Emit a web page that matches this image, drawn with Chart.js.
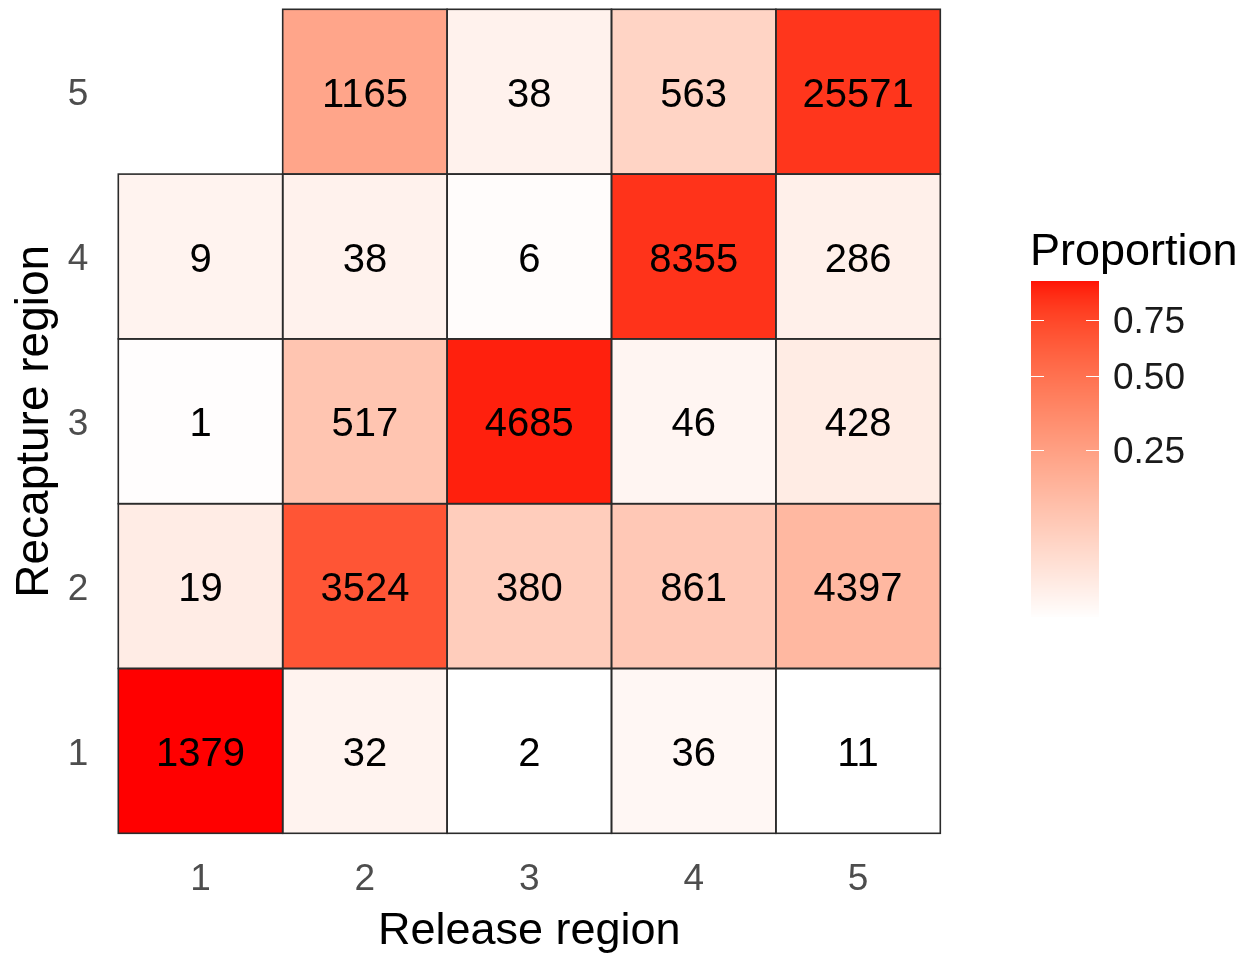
<!DOCTYPE html>
<html>
<head>
<meta charset="utf-8">
<script src="https://cdn.jsdelivr.net/npm/chart.js@4"></script>
<style>
  html, body { margin: 0; padding: 0; background: #ffffff; }
  #wrap { width: 1244px; height: 959px; }
</style>
</head>
<body>
<div id="wrap"><canvas id="heat" width="1244" height="959"></canvas></div>
<script>
// Tag-recapture counts: one array per recapture region, indexed by release region
const releaseRegions = ['1', '2', '3', '4', '5'];
const recaptureRegions = [1, 2, 3, 4, 5];
const recapture1 = [1379, 32, 2, 36, 11];
const recapture2 = [19, 3524, 380, 861, 4397];
const recapture3 = [1, 517, 4685, 46, 428];
const recapture4 = [9, 38, 6, 8355, 286];
const recapture5 = [null, 1165, 38, 563, 25571];
const legendTicks = [0.25, 0.50, 0.75];
const legendTitle = 'Proportion';
const xTitle = 'Release region';
const yTitle = 'Recapture region';

const countRows = [recapture1, recapture2, recapture3, recapture4, recapture5];

// proportion of each release region's recaptures that ended up in each region
const releaseTotals = releaseRegions.map((_, c) =>
  countRows.reduce((s, row) => s + (row[c] == null ? 0 : row[c]), 0));
const propRows = countRows.map(row => row.map((v, c) => v == null ? null : v / releaseTotals[c]));
const allProps = propRows.flat().filter(v => v != null);
const sLo = Math.sqrt(Math.min(...allProps));
const sHi = Math.sqrt(Math.max(...allProps));

// white -> red gradient interpolated in CIE Lab, on a square-root scale
function toLin(c) { c /= 255; return c <= 0.04045 ? c / 12.92 : Math.pow((c + 0.055) / 1.055, 2.4); }
function toGam(c) { const v = c <= 0.0031308 ? 12.92 * c : 1.055 * Math.pow(c, 1 / 2.4) - 0.055; return Math.max(0, Math.min(255, Math.round(v * 255))); }
const Xn = 0.95047, Yn = 1.0, Zn = 1.08883;
function rgbToLab(rgb) {
  const [r, g, b] = rgb.map(toLin);
  const X = (0.4124564 * r + 0.3575761 * g + 0.1804375 * b) / Xn;
  const Y = (0.2126729 * r + 0.7151522 * g + 0.0721750 * b) / Yn;
  const Z = (0.0193339 * r + 0.1191920 * g + 0.9503041 * b) / Zn;
  const f = t => t > 0.008856 ? Math.cbrt(t) : 7.787 * t + 16 / 116;
  const fx = f(X), fy = f(Y), fz = f(Z);
  return [116 * fy - 16, 500 * (fx - fy), 200 * (fy - fz)];
}
function labToRgb([L, a, b]) {
  const fy = (L + 16) / 116, fx = fy + a / 500, fz = fy - b / 200;
  const inv = t => t * t * t > 0.008856 ? t * t * t : (t - 16 / 116) / 7.787;
  const X = inv(fx) * Xn, Y = inv(fy) * Yn, Z = inv(fz) * Zn;
  const r = 3.2404542 * X - 1.5371385 * Y - 0.4985314 * Z;
  const g = -0.9692660 * X + 1.8760108 * Y + 0.0415560 * Z;
  const bb = 0.0556434 * X - 0.2040259 * Y + 1.0572252 * Z;
  return [toGam(r), toGam(g), toGam(bb)];
}
const labLow = rgbToLab([255, 255, 255]);
const labHigh = rgbToLab([255, 0, 0]);
function colourForSqrt(s) {
  const t = Math.max(0, Math.min(1, (s - sLo) / (sHi - sLo)));
  const lab = labLow.map((v, i) => v + (labHigh[i] - v) * t);
  const [r, g, b] = labToRgb(lab);
  return `rgb(${r},${g},${b})`;
}
function colourForProp(p) { return colourForSqrt(Math.sqrt(p)); }

// one floating-bar dataset per recapture region; each bar spans its row
const datasets = recaptureRegions.map((r, i) => ({
  label: 'Recapture ' + r,
  data: countRows[i].map(v => v == null ? null : [r - 0.5, r + 0.5]),
  counts: countRows[i],
  backgroundColor: propRows[i].map(p => p == null ? 'rgba(0,0,0,0)' : colourForProp(p)),
  borderWidth: 0,
  grouped: false,
  barPercentage: 1.0,
  categoryPercentage: 1.0
}));

// cell outlines and count labels
const cellText = {
  id: 'cellText',
  afterDatasetsDraw(chart) {
    const ctx = chart.ctx;
    ctx.save();
    chart.data.datasets.forEach((ds, di) => {
      const meta = chart.getDatasetMeta(di);
      meta.data.forEach((el, j) => {
        const v = ds.counts[j];
        if (v == null) return;
        const { x, y, base, width } = el.getProps(['x', 'y', 'base', 'width'], true);
        const top = Math.min(y, base), h = Math.abs(base - y);
        ctx.strokeStyle = '#2b2b2b';
        ctx.lineWidth = 1.6;
        ctx.strokeRect(x - width / 2, top, width, h);
        ctx.fillStyle = '#000000';
        ctx.font = '40px "Liberation Sans", Arial, sans-serif';
        ctx.textAlign = 'center';
        ctx.textBaseline = 'middle';
        ctx.fillText(String(v), x, top + h / 2 + 4);
      });
    });
    ctx.restore();
  }
};

// continuous colour bar legend to the right of the panel
const colourBar = {
  id: 'colourBar',
  afterDraw(chart) {
    const ctx = chart.ctx;
    const area = chart.chartArea;
    const barX = area.right + 90.7, barW = 68;
    const barTop = 281, barH = 336;
    // the scale limits sit a few pixels beyond the drawn bar ends
    const limTop = barTop - 5, limBottom = barTop + barH + 3;
    const yFor = s => limTop + (sHi - s) / (sHi - sLo) * (limBottom - limTop);
    const sFor = py => sHi - (py - limTop) / (limBottom - limTop) * (sHi - sLo);
    ctx.save();
    for (let k = 0; k < barH; k++) {
      ctx.fillStyle = colourForSqrt(sFor(barTop + k + 0.5));
      ctx.fillRect(barX, barTop + k, barW, 1.2);
    }
    ctx.strokeStyle = '#ffffff';
    ctx.lineWidth = 1.2;
    ctx.fillStyle = '#1a1a1a';
    ctx.font = '37px "Liberation Sans", Arial, sans-serif';
    ctx.textAlign = 'left';
    ctx.textBaseline = 'middle';
    legendTicks.forEach(t => {
      const ty = Math.round(yFor(Math.sqrt(t))) + 0.5;
      ctx.beginPath();
      ctx.moveTo(barX, ty); ctx.lineTo(barX + 13, ty);
      ctx.moveTo(barX + barW - 13, ty); ctx.lineTo(barX + barW, ty);
      ctx.stroke();
      ctx.fillText(t.toFixed(2), barX + 82, ty + 2);
    });
    ctx.fillStyle = '#000000';
    ctx.font = '45px "Liberation Sans", Arial, sans-serif';
    ctx.textBaseline = 'alphabetic';
    ctx.fillText(legendTitle, barX - 1, 265);
    ctx.restore();
  }
};

new Chart(document.getElementById('heat'), {
  type: 'bar',
  data: { labels: releaseRegions, datasets },
  options: {
    responsive: false,
    devicePixelRatio: 1,
    animation: false,
    layout: { padding: { left: 0, top: 9.3, right: 303.7, bottom: 0 } },
    plugins: { legend: { display: false }, tooltip: { enabled: false } },
    scales: {
      x: {
        type: 'category',
        offset: true,
        grid: { display: false, drawTicks: false },
        border: { display: false },
        ticks: {
          color: '#4d4d4d',
          padding: 24,
          font: { family: '"Liberation Sans", Arial, sans-serif', size: 37 }
        },
        title: {
          display: true,
          text: xTitle,
          color: '#000000',
          padding: { top: 0, bottom: 0 },
          font: { family: '"Liberation Sans", Arial, sans-serif', size: 45 }
        },
        afterFit(scale) {
          scale.height = 125.7;
          scale.paddingLeft = 0; scale.paddingRight = 0;
        }
      },
      y: {
        type: 'linear',
        min: 0.5,
        max: 5.5,
        grid: { display: false, drawTicks: false },
        border: { display: false },
        ticks: {
          color: '#4d4d4d',
          padding: 30,
          labelOffset: 3.5,
          font: { family: '"Liberation Sans", Arial, sans-serif', size: 37 },
          callback: v => String(v)
        },
        afterBuildTicks(scale) { scale.ticks = recaptureRegions.map(v => ({ value: v })); },
        title: {
          display: true,
          text: yTitle,
          color: '#000000',
          padding: { top: 7.6, bottom: 0 },
          font: { family: '"Liberation Sans", Arial, sans-serif', size: 46 }
        },
        afterFit(scale) {
          scale.width = 118.3;
          scale.paddingTop = 0; scale.paddingBottom = 0;
        }
      }
    }
  },
  plugins: [cellText, colourBar]
});
</script>
</body>
</html>
